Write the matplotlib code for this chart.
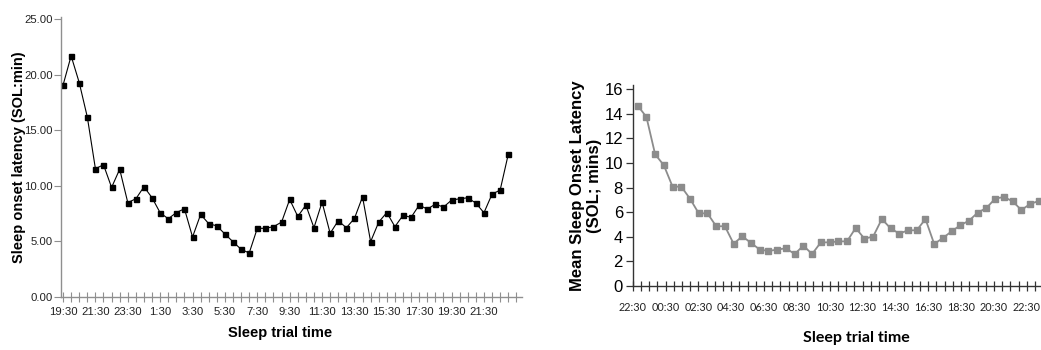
import numpy as np
import matplotlib
matplotlib.use("Agg")
import matplotlib.pyplot as plt

# left panel: SOL per 30-min trial, 19:30 -> 23:00 next day
left_sol = [19.06, 21.7, 19.3, 16.2, 11.55, 11.9, 9.86, 11.5, 8.5, 8.84,
            9.92, 8.93, 7.58, 7.04, 7.6, 7.94, 5.4, 7.43, 6.6, 6.4,
            5.67, 4.97, 4.29, 3.96, 6.18, 6.18, 6.33, 6.74, 8.78, 7.25,
            8.27, 6.23, 8.54, 5.73, 6.87, 6.23, 7.07, 9.02, 4.98, 6.74,
            7.6, 6.33, 7.35, 7.17, 8.27, 7.91, 8.36, 8.09, 8.72, 8.84,
            8.93, 8.45, 7.58, 9.26, 9.62, 12.83]
left_labels = ["19:30", "21:30", "23:30", "1:30", "3:30", "5:30", "7:30",
               "9:30", "11:30", "13:30", "15:30", "17:30", "19:30", "21:30"]
left_yticks = [0, 5, 10, 15, 20, 25]

# right panel: mean SOL
right_sol = [14.67, 13.75, 10.71, 9.82, 8.08, 8.08, 7.1, 5.91, 5.91, 4.86,
             4.86, 3.44, 4.04, 3.5, 2.96, 2.85, 2.96, 3.07, 2.6, 3.28,
             2.6, 3.55, 3.55, 3.63, 3.63, 4.72, 3.85, 4.02, 5.45, 4.69,
             4.26, 4.53, 4.53, 5.45, 3.42, 3.9, 4.45, 4.94, 5.32, 5.97,
             6.35, 7.11, 7.24, 6.89, 6.18, 6.67, 6.92]
right_labels = ["22:30", "00:30", "02:30", "04:30", "06:30", "08:30", "10:30",
                "12:30", "14:30", "16:30", "18:30", "20:30", "22:30"]
right_yticks = list(range(0, 17, 2))

W, H = 1041, 350
fig = plt.figure(figsize=(W / 100, H / 100), dpi=100)

narrow = ["Liberation Sans Narrow", "Liberation Sans", "DejaVu Sans"]
gray_axis = "#8f8f8f"

# ---------------- left ----------------
ax1 = fig.add_axes([61 / W, 53 / H, 461 / W, 280 / H])
x1 = np.arange(len(left_sol))
ax1.plot(x1, left_sol, color="black", lw=0.8, marker="s", ms=3.6,
         mfc="black", mec="black")
ax1.set_xlim(-0.25, 56.7)
ax1.set_ylim(0, 25.2)

ax1.set_xticks(np.arange(0, 4 * len(left_labels), 4))
ax1.set_xticks(np.arange(57), minor=True)
ax1.set_xticklabels(left_labels, family=narrow, fontsize=8.2, color="#222222")
ax1.set_yticks(left_yticks)
ax1.set_yticklabels(["%.2f" % v for v in left_yticks], family=narrow,
                    fontsize=8.2, color="#222222")
ax1.tick_params(axis="x", which="both", direction="inout", length=7,
                width=0.8, color=gray_axis, pad=4)
ax1.tick_params(axis="y", direction="out", length=5, width=0.8,
                color=gray_axis, pad=1)
for s in ["top", "right"]:
    ax1.spines[s].set_visible(False)
for s in ["left", "bottom"]:
    ax1.spines[s].set_color(gray_axis)
    ax1.spines[s].set_linewidth(1.0)

ax1.set_ylabel("Sleep onset latency (SOL:min)", family="Liberation Sans",
               fontsize=10.5, fontweight="bold")
ax1.yaxis.set_label_coords(-35 / 461, 0.5)
ax1.set_xlabel("Sleep trial time", family=narrow, fontsize=10.5,
               fontweight="bold")
ax1.xaxis.set_label_coords(0.475, -29 / 280)

# ---------------- right ----------------
ax2 = fig.add_axes([632.7 / W, 64 / H, (W - 632.7) / W, 201 / H])
x2 = np.arange(len(right_sol))
ax2.plot(x2, right_sol, color="#8c8c8c", lw=1.3, marker="s", ms=4.2,
         mfc="#8c8c8c", mec="#8c8c8c")
ax2.set_xlim(-0.573, 46.25)
ax2.set_ylim(0, 16.35)

tick_step = 0.9415   # one 30-min slot in point units
tick_off = -0.573
ticks_all = tick_off + tick_step * np.arange(50)
ax2.set_xticks(ticks_all[::4])
ax2.set_xticks(ticks_all, minor=True)
ax2.set_xticklabels(right_labels, family=["Lato", "DejaVu Sans"],
                    fontsize=7.8, color="#222222")
ax2.set_yticks(right_yticks)
ax2.set_yticklabels([str(v) for v in right_yticks],
                    family="Liberation Sans", fontsize=12)
ax2.tick_params(axis="x", which="both", direction="inout", length=7,
                width=0.9, color="#333333", pad=8)
ax2.tick_params(axis="y", direction="out", length=5, width=0.9,
                color="#333333", pad=2)
for s in ["top", "right"]:
    ax2.spines[s].set_visible(False)
for s in ["left", "bottom"]:
    ax2.spines[s].set_color("#333333")
    ax2.spines[s].set_linewidth(1.0)

ax2.set_ylabel("Mean Sleep Onset Latency\n(SOL; mins)",
               family="Liberation Sans", fontsize=12, fontweight="bold",
               linespacing=1.1)
ax2.yaxis.set_label_coords(-31 / 408, 0.5)
ax2.set_xlabel("Sleep trial time", family=["Lato", "DejaVu Sans"],
               fontsize=11.5, fontweight="bold")
ax2.xaxis.set_label_coords((856 - 632.7) / 408, -45 / 201)

fig.savefig("out.png", dpi=100)
